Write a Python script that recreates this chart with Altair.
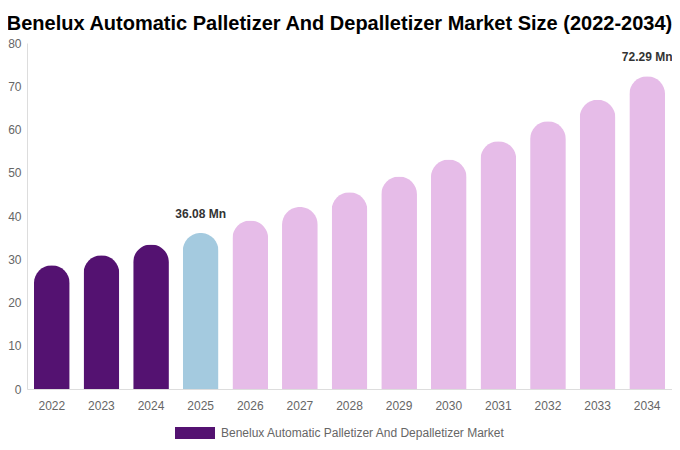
import altair as alt
import pandas as pd

years = ["2022", "2023", "2024", "2025", "2026", "2027", "2028", "2029", "2030", "2031", "2032", "2033", "2034"]
values = [28.6, 30.9, 33.4, 36.08, 38.97, 42.10, 45.47, 49.12, 53.06, 57.31, 61.91, 66.88, 72.29]
labels = ["", "", "", "36.08 Mn", "", "", "", "", "", "", "", "", "72.29 Mn"]
series_name = "Benelux Automatic Palletizer And Depalletizer Market"
title_text = "Benelux Automatic Palletizer And Depalletizer Market Size (2022-2034)"

df = pd.DataFrame({"year": years, "value": values, "label": labels, "series": series_name})

x_enc = alt.X("year:O", title=None, sort=years,
              scale=alt.Scale(paddingInner=0.28, paddingOuter=0.14),
              axis=alt.Axis(labelAngle=0, ticks=False, domainColor="#dddddd",
                            labelColor="#666666", labelFontSize=12, labelPadding=11,
                            labelFont="Liberation Sans"))
y_enc = alt.Y("value:Q", title=None,
              scale=alt.Scale(domain=[0, 80], nice=False),
              axis=alt.Axis(values=[0, 10, 20, 30, 40, 50, 60, 70, 80], grid=False, ticks=False,
                            domainColor="#dddddd", labelColor="#666666", labelFontSize=12,
                            labelPadding=6, labelFont="Liberation Sans"))

bars = alt.Chart(df).mark_bar(cornerRadiusTopLeft=18, cornerRadiusTopRight=18).encode(
    x=x_enc,
    y=y_enc,
    color=alt.Color("series:N", title=None,
                    scale=alt.Scale(range=["#541271"]),
                    legend=alt.Legend(orient="none", legendX=158, legendY=380,
                                      symbolType="M-2,-0.6L2,-0.6L2,0.6L-2,0.6Z",
                                      symbolSize=400, symbolStrokeWidth=0, labelOffset=16,
                                      labelColor="#666666", labelFontSize=12, labelLimit=0,
                                      labelFont="Liberation Sans", symbolOffset=0),
                    condition=[{"test": "datum.year == '2025'", "value": "#A4CADF"},
                               {"test": "toNumber(datum.year) > 2025", "value": "#E6BCE8"}]),
)

text = alt.Chart(df).transform_filter("datum.label != ''").mark_text(
    dy=-12, baseline="bottom", fontWeight="bold", fontSize=12, color="#333333",
    font="Liberation Sans").encode(
    x=alt.X("year:O", sort=years),
    y=alt.Y("value:Q"),
    text="label:N",
)

chart = alt.layer(bars, text).properties(
    width=645, height=346,
    padding={"left": 19, "top": 35, "right": 0, "bottom": 53},
    autosize=alt.AutoSizeParams(type="none"),
    title=alt.TitleParams(title_text, fontSize=20, fontWeight="bold", font="Liberation Sans",
                          color="#000000", anchor="middle", dx=-10, offset=3),
).configure_view(stroke=None)

chart.save("out.html", embed_options={"renderer": "svg", "actions": False})
